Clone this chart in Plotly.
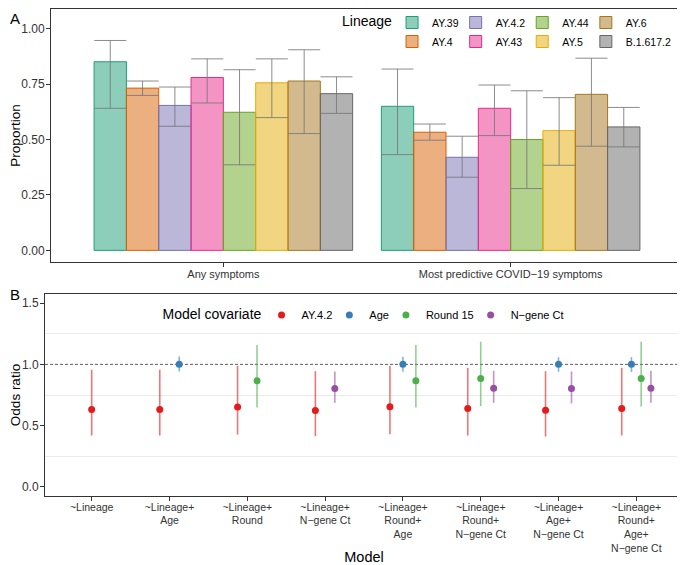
import plotly.graph_objects as go

# ---------------- Panel A data ----------------
CATEGORIES = ["Any symptoms", "Most predictive COVID\u221219 symptoms"]
LINEAGES = ["AY.39", "AY.4", "AY.4.2", "AY.43", "AY.44", "AY.5", "AY.6", "B.1.617.2"]
LINEAGE_COLORS = ["#1B9E77", "#D95F02", "#7570B3", "#E7298A", "#66A61E", "#E6AB02", "#A6761D", "#666666"]
PROP_ANY = [0.851, 0.732, 0.654, 0.780, 0.623, 0.756, 0.764, 0.707]
LOW_ANY = [0.641, 0.699, 0.560, 0.665, 0.386, 0.599, 0.527, 0.618]
HIGH_ANY = [0.947, 0.764, 0.737, 0.864, 0.815, 0.864, 0.905, 0.783]
PROP_PRED = [0.650, 0.533, 0.420, 0.641, 0.500, 0.540, 0.704, 0.557]
LOW_PRED = [0.432, 0.497, 0.330, 0.518, 0.279, 0.384, 0.470, 0.467]
HIGH_PRED = [0.818, 0.570, 0.515, 0.746, 0.720, 0.689, 0.867, 0.645]
PROP_TICKS = [0.0, 0.25, 0.5, 0.75, 1.0]

# ---------------- Panel B data ----------------
MODELS = ["~Lineage", "~Lineage+<br>Age", "~Lineage+<br>Round", "~Lineage+<br>N\u2212gene Ct",
          "~Lineage+<br>Round+<br>Age", "~Lineage+<br>Round+<br>N\u2212gene Ct",
          "~Lineage+<br>Age+<br>N\u2212gene Ct", "~Lineage+<br>Round+<br>Age+<br>N\u2212gene Ct"]
COVARIATES = ["AY.4.2", "Age", "Round 15", "N\u2212gene Ct"]
COV_COLORS = ["#E41A1C", "#377EB8", "#4DAF4A", "#984EA3"]
OR_AY42 = [0.632, 0.632, 0.651, 0.624, 0.654, 0.640, 0.626, 0.640]
LO_AY42 = [0.419, 0.419, 0.427, 0.414, 0.430, 0.419, 0.411, 0.419]
HI_AY42 = [0.956, 0.956, 0.989, 0.945, 0.989, 0.972, 0.945, 0.972]
OR_AGE = [None, 1.002, None, None, 1.002, None, 1.002, 1.002]
LO_AGE = [None, 0.942, None, None, 0.940, None, 0.940, 0.937]
HI_AGE = [None, 1.065, None, None, 1.062, None, 1.059, 1.059]
OR_ROUND = [None, None, 0.866, None, 0.866, 0.885, None, 0.885]
LO_ROUND = [None, None, 0.648, None, 0.648, 0.659, None, 0.656]
HI_ROUND = [None, None, 1.158, None, 1.158, 1.185, None, 1.185]
OR_CT = [None, None, None, 0.803, None, 0.806, 0.803, 0.806]
LO_CT = [None, None, None, 0.686, None, 0.686, 0.681, 0.686]
HI_CT = [None, None, None, 0.942, None, 0.948, 0.942, 0.948]
OR_TICKS = [0.0, 0.5, 1.0, 1.5]
REF_LINE = 1.0

FONT = "Liberation Sans, Arial, sans-serif"
TXT = "#333333"
# the page body adds an 8px margin, so the figure is 8px smaller than the window
W, H = 677, 557


def rgba(hexc, a):
    h = hexc.lstrip("#")
    return "rgba(%d,%d,%d,%s)" % (int(h[0:2], 16), int(h[2:4], 16), int(h[4:6], 16), a)


fig = go.Figure()

# Panel A bars
for i, lin in enumerate(LINEAGES):
    vals = [PROP_ANY[i], PROP_PRED[i]]
    lows = [LOW_ANY[i], LOW_PRED[i]]
    highs = [HIGH_ANY[i], HIGH_PRED[i]]
    fig.add_trace(go.Bar(
        x=CATEGORIES, y=vals, name=lin,
        legendgroup="g%d" % (i // 2), legend="legend",
        marker=dict(color=rgba(LINEAGE_COLORS[i], 0.5),
                    line=dict(color=LINEAGE_COLORS[i], width=1)),
        error_y=dict(type="data", symmetric=False,
                     array=[h - v for h, v in zip(highs, vals)],
                     arrayminus=[v - l for v, l in zip(vals, lows)],
                     color="rgba(120,120,120,0.85)", thickness=1, width=16),
        xaxis="x", yaxis="y",
    ))

# Panel B points with dodge
series = [(OR_AY42, LO_AY42, HI_AY42), (OR_AGE, LO_AGE, HI_AGE),
          (OR_ROUND, LO_ROUND, HI_ROUND), (OR_CT, LO_CT, HI_CT)]
DODGE = 0.5
xs_by_cov = [[None] * len(MODELS) for _ in COVARIATES]
for m in range(len(MODELS)):
    present = [c for c in range(len(COVARIATES)) if series[c][0][m] is not None]
    n = len(present)
    for k, c in enumerate(present):
        xs_by_cov[c][m] = m + (k - (n - 1) / 2) * DODGE / n

for c, name in enumerate(COVARIATES):
    orv, lo, hi = series[c]
    idx = [m for m in range(len(MODELS)) if orv[m] is not None]
    fig.add_trace(go.Scatter(
        x=[xs_by_cov[c][m] for m in idx], y=[orv[m] for m in idx],
        mode="markers", name=name, legend="legend2",
        marker=dict(color=COV_COLORS[c], size=7),
        error_y=dict(type="data", symmetric=False,
                     array=[hi[m] - orv[m] for m in idx],
                     arrayminus=[orv[m] - lo[m] for m in idx],
                     color=rgba(COV_COLORS[c], 0.6), thickness=1.6, width=0),
        xaxis="x2", yaxis="y2",
    ))

axis_common = dict(showline=True, mirror=True, linecolor=TXT, linewidth=1,
                   ticks="outside", ticklen=4, tickcolor=TXT, tickwidth=1,
                   zeroline=False, showgrid=False, automargin=False,
                   tickfont=dict(family=FONT, size=12, color=TXT))

fig.update_layout(
    width=W, height=H,
    margin=dict(l=0, r=0, t=0, b=0, autoexpand=False),
    paper_bgcolor="white", plot_bgcolor="white",
    font=dict(family=FONT, color=TXT),
    barmode="group", bargap=0.1, bargroupgap=0,
    xaxis=dict(axis_common, domain=[43 / W, 675 / W], anchor="y",
               type="category", range=[-0.6, 1.6], ticklabelstandoff=-2,
               tickfont=dict(family=FONT, size=11, color=TXT)),
    yaxis=dict(axis_common, domain=[1 - 254 / H, 1 - 1 / H], anchor="x",
               range=[-0.0525, 1.089], tickvals=PROP_TICKS, tickformat=".2f",
               ticklabelstandoff=-1,
               title=dict(text="Proportion", font=dict(family=FONT, size=13.5, color="black"),
                          standoff=3)),
    xaxis2=dict(axis_common, domain=[37 / W, 675 / W], anchor="y2",
                range=[-0.6, 7.6], tickvals=list(range(len(MODELS))), ticktext=MODELS,
                ticklabelstandoff=-3,
                tickfont=dict(family=FONT, size=10.5, color=TXT),
                title=dict(text="Model", font=dict(family=FONT, size=14.5, color="black"),
                           standoff=0)),
    yaxis2=dict(axis_common, domain=[1 - 488 / H, 1 - 286 / H], anchor="x2",
                range=[-0.075, 1.575], tickvals=OR_TICKS, tickformat=".1f",
                ticklabelstandoff=-1,
                minor=dict(tick0=0.25, dtick=0.5, showgrid=True, gridcolor="#EBEBEB",
                           gridwidth=1, ticklen=0),
                title=dict(text="Odds ratio", font=dict(family=FONT, size=13.5, color="black"),
                           standoff=5)),
    legend=dict(orientation="h", traceorder="grouped", tracegroupgap=0,
                x=332 / W, xanchor="left", y=1 - 24 / H, yanchor="middle",
                bgcolor="rgba(0,0,0,0)", itemwidth=30, indentation=-8,
                font=dict(family=FONT, size=10.5, color="black"),
                title=dict(text="Lineage", side="left",
                           font=dict(family=FONT, size=14, color="black"))),
    legend2=dict(orientation="h", x=357 / W, xanchor="center",
                 y=1 - 307 / H, yanchor="middle",
                 bgcolor="rgba(0,0,0,0)", itemwidth=30, indentation=-8,
                 font=dict(family=FONT, size=11, color="black"),
                 title=dict(text="Model covariate", side="left",
                            font=dict(family=FONT, size=14, color="black"))),
    shapes=[dict(type="line", xref="x2 domain", yref="y2", x0=0, x1=1,
                 y0=REF_LINE, y1=REF_LINE, line=dict(color=TXT, width=0.8, dash="3px,2px"),
                 layer="below")],
    annotations=[
        dict(text="A", xref="paper", yref="paper", x=0, y=1,
             xanchor="left", yanchor="top", showarrow=False,
             font=dict(family=FONT, size=15, color="black")),
        dict(text="B", xref="paper", yref="paper", x=0, y=1 - 276 / H,
             xanchor="left", yanchor="top", showarrow=False,
             font=dict(family=FONT, size=15, color="black")),
    ],
)

fig.write_html("out.html")
